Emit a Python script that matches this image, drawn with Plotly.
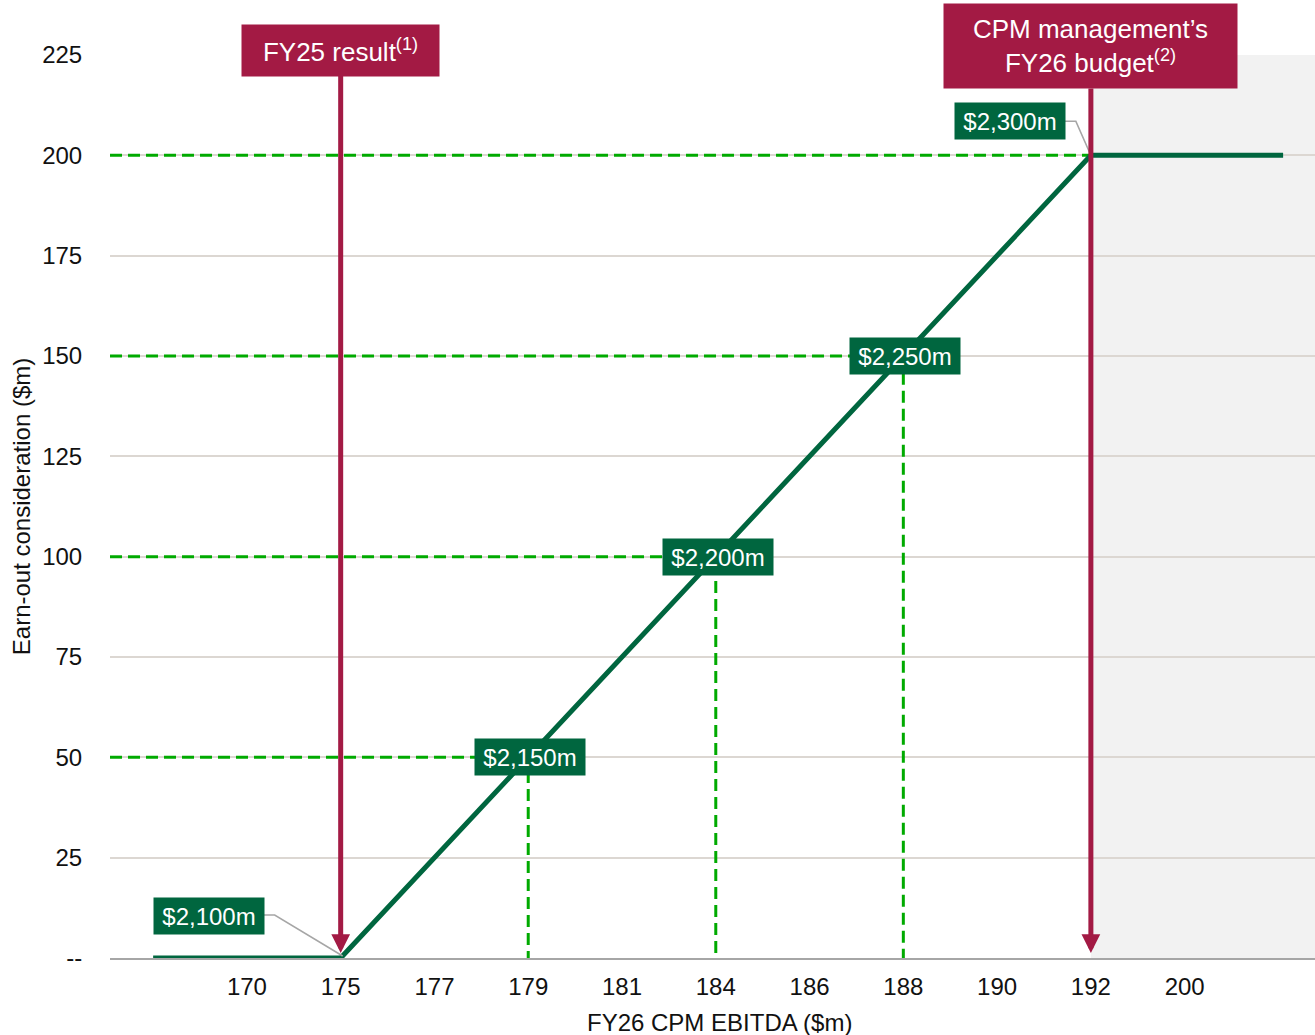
import plotly.graph_objects as go

# ---- data ----
x_labels = ["170", "175", "177", "179", "181", "184", "186", "188", "190", "192", "200"]
x_pos = list(range(len(x_labels)))

# earn-out curve, x in category-index units
curve_x = [-1, 1, 9, 11.05]
curve_y = [0, 0, 200, 200]

milestone_x = [3, 5, 7]          # 179, 184, 188
milestone_y = [50, 100, 150]
milestone_labels = ["$2,150m", "$2,200m", "$2,250m"]

cap_x, cap_y, cap_label = 9, 200, "$2,300m"
floor_x, floor_y, floor_label = 1, 0, "$2,100m"

fy25_x = 1
budget_x = 9

y_ticks = [0, 25, 50, 75, 100, 125, 150, 175, 200, 225]
y_ticktext = ["--", "25", "50", "75", "100", "125", "150", "175", "200", "225"]

# ---- style ----
DARK_GREEN = "#00663f"
BRIGHT_GREEN = "#00aa00"
CRIMSON = "#a31a44"
GRID = "#dcd7d2"
AXIS = "#a6a6a6"
FONT = "Liberation Sans, Arial, sans-serif"
TXT = "#111111"

X_MIN, X_MAX = -1.46, 11.39
Y_MIN, Y_MAX = 0, 225

fig = go.Figure()

# dashed guide lines
for mx, my in zip(milestone_x, milestone_y):
    fig.add_trace(go.Scatter(x=[X_MIN, mx, mx], y=[my, my, 0], mode="lines",
                             line=dict(color=BRIGHT_GREEN, width=3, dash="12px,6px"),
                             hoverinfo="skip", showlegend=False, cliponaxis=False))
fig.add_trace(go.Scatter(x=[X_MIN, cap_x], y=[cap_y, cap_y], mode="lines",
                         line=dict(color=BRIGHT_GREEN, width=3, dash="12px,6px"),
                         hoverinfo="skip", showlegend=False, cliponaxis=False))

# main curve
fig.add_trace(go.Scatter(x=curve_x, y=curve_y, mode="lines",
                         line=dict(color=DARK_GREEN, width=5),
                         hoverinfo="skip", showlegend=False, cliponaxis=False))

shapes = [
    dict(type="rect", xref="x", yref="y", x0=budget_x, x1=X_MAX, y0=Y_MIN, y1=Y_MAX,
         fillcolor="#f2f2f2", line=dict(width=0), layer="below"),
    # leader for floor label
    dict(type="path", xref="x", yref="y", xsizemode="pixel", ysizemode="pixel",
         xanchor=floor_x, yanchor=floor_y, path="M -77,43 L -66,43 L 2,2",
         line=dict(color=AXIS, width=1.5)),
    # leader for cap label
    dict(type="path", xref="x", yref="y", xsizemode="pixel", ysizemode="pixel",
         xanchor=cap_x, yanchor=cap_y, path="M -26,34 L -15,34 L 0,0",
         line=dict(color=AXIS, width=1.5)),
]

annotations = []
for mx, my, lab in zip(milestone_x, milestone_y, milestone_labels):
    annotations.append(dict(x=mx, y=my, xref="x", yref="y", text=lab, showarrow=False,
                            xshift=2,
                            font=dict(family=FONT, size=24, color="white"),
                            bgcolor=DARK_GREEN, width=106, height=32, borderpad=2))
annotations.append(dict(x=cap_x, y=cap_y, xref="x", yref="y", text=cap_label, showarrow=False,
                        xshift=-81, yshift=34,
                        font=dict(family=FONT, size=24, color="white"),
                        bgcolor=DARK_GREEN, width=106, height=32, borderpad=2))
annotations.append(dict(x=floor_x, y=floor_y, xref="x", yref="y", text=floor_label, showarrow=False,
                        xshift=-132, yshift=42,
                        font=dict(family=FONT, size=24, color="white"),
                        bgcolor=DARK_GREEN, width=106, height=32, borderpad=2))

annotations.append(dict(x=fy25_x, y=0, xref="x", yref="y", text="FY25 result<sup>(1)</sup>",
                        showarrow=True, ax=0, ay=-908, arrowcolor=CRIMSON, arrowwidth=5,
                        arrowhead=2, arrowsize=0.75, standoff=5,
                        font=dict(family=FONT, size=26, color="white"),
                        bgcolor=CRIMSON, width=191, height=45, borderpad=3))
annotations.append(dict(x=budget_x, y=0, xref="x", yref="y",
                        text="CPM management’s<br>FY26 budget<sup>(2)</sup>",
                        showarrow=True, ax=0, ay=-912, arrowcolor=CRIMSON, arrowwidth=5,
                        arrowhead=2, arrowsize=0.75, standoff=5,
                        font=dict(family=FONT, size=26, color="white"),
                        bgcolor=CRIMSON, width=287, height=78, borderpad=3))

# x-axis title
annotations.append(dict(x=0.5, y=0, xref="paper", yref="paper", xshift=7, yshift=-64,
                        yanchor="middle", showarrow=False, text="FY26 CPM EBITDA ($m)",
                        font=dict(family=FONT, size=24, color=TXT)))

fig.update_layout(
    width=1315, height=1035,
    margin=dict(l=110, r=0, t=55, b=77, autoexpand=False),
    paper_bgcolor="white", plot_bgcolor="white",
    font=dict(family=FONT, size=24, color=TXT),
    shapes=shapes, annotations=annotations,
    xaxis=dict(range=[X_MIN, X_MAX], tickvals=x_pos, ticktext=x_labels,
               showgrid=False, zeroline=False, showline=True, linecolor=AXIS, linewidth=2,
               ticks="outside", ticklen=6, tickcolor="rgba(0,0,0,0)",
               tickfont=dict(size=24, color=TXT),
               automargin=False, fixedrange=True),
    yaxis=dict(range=[Y_MIN, Y_MAX], tickvals=y_ticks, ticktext=y_ticktext,
               showgrid=True, gridcolor=GRID, gridwidth=1.5, zeroline=False, showline=False,
               ticks="outside", ticklen=22, tickcolor="rgba(0,0,0,0)",
               tickfont=dict(size=24, color=TXT),
               title=dict(text="Earn-out consideration ($m)", standoff=4,
                          font=dict(size=24, color=TXT)),
               automargin=False, fixedrange=True),
)

fig.write_html("out.html")
